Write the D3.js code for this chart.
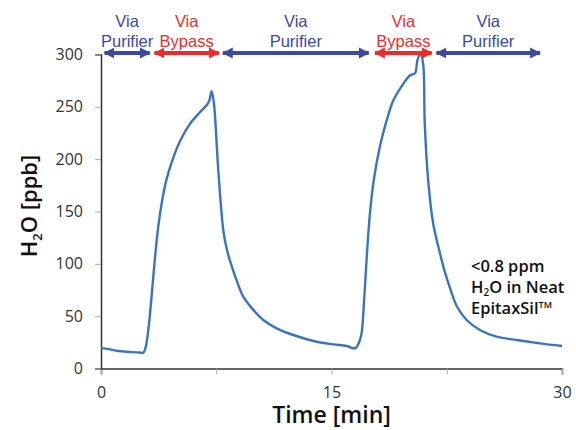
<!DOCTYPE html>
<html>
<head>
<meta charset="utf-8">
<script src="https://cdn.jsdelivr.net/npm/d3@7"></script>
<style>
  body { margin: 0; background: #fff; }
  svg { display: block; }
</style>
</head>
<body>
<svg width="576" height="430"></svg>
<script>
// time in minutes, H2O in ppb
const time = [0, 0.5, 1, 1.5, 2, 2.5, 2.75, 2.9, 3.08, 3.3, 3.5, 3.73, 3.95, 4.25, 4.6, 5.1, 5.8, 6.45, 6.9, 7.05, 7.2,
  7.35, 7.63, 7.96, 8.2, 8.5, 8.83, 9.26, 9.91, 10.56, 11.43, 12.51, 14.03, 15.12, 16.0, 16.53, 16.8, 16.96,
  17.1, 17.3, 17.5, 17.75, 18.15, 18.59, 19.02, 19.67, 20.1, 20.43, 20.6, 20.8, 20.97, 21.07, 21.29, 21.61,
  22.06, 22.38, 22.71, 23.14, 23.79, 24.66, 25.74, 27.05, 28.56, 30];
const h2o = [19.5, 18.5, 17, 16.3, 15.6, 15.3, 15.1, 20, 37, 70, 104, 136, 158, 180, 197, 216, 234, 245, 252, 256, 265,
  253, 190, 132, 113, 98, 84, 68.6, 56, 46.3, 38.4, 32, 25.6, 23.1, 21.5, 19.3, 25, 34,
  60, 108, 148, 180, 212, 237, 256, 272, 280, 282, 295, 301, 290, 234, 180, 139,
  110, 92, 77, 60, 46.3, 36.8, 30.4, 27.2, 24, 21.5];

const yTicks = [0, 50, 100, 150, 200, 250, 300];
const xTicks = [0, 7.5, 15, 22.5, 30];
const xTickLabels = ["0", "", "15", "", "30"];

// flow path annotations along the top
const pathNames = [["Via", "Purifier"], ["Via", "Bypass"], ["Via", "Purifier"], ["Via", "Bypass"], ["Via", "Purifier"]];
const pathStart = [0.1, 3.35, 7.8, 17.7, 21.7];
const pathEnd = [3.3, 7.8, 17.55, 21.65, 28.7];
const pathKind = ["purifier", "bypass", "purifier", "bypass", "purifier"];

const colors = { purifier: "#3b49a3", bypass: "#ee2b2b" };

const svg = d3.select("svg"),
  margin = { top: 54.5, right: 14, bottom: 61.5, left: 101 },
  width = +svg.attr("width") - margin.left - margin.right,
  height = +svg.attr("height") - margin.top - margin.bottom;

const x = d3.scaleLinear().domain([0, 30]).range([0, width]);
const y = d3.scaleLinear().domain([0, 300]).range([height, 0]);

const chart = svg.append("g")
  .attr("transform", "translate(" + margin.left + "," + margin.top + ")");

// axes
const xAxis = chart.append("g")
  .attr("transform", "translate(0," + height + ")")
  .call(d3.axisBottom(x).tickValues(xTicks).tickSize(6).tickFormat((d, i) => xTickLabels[i]));
xAxis.select(".domain").attr("stroke", "#333").attr("stroke-width", 1.5);
xAxis.selectAll(".tick line").attr("stroke", "#aaa");
xAxis.selectAll(".tick text")
  .attr("dy", "1.3em")
  .style("font-family", "'Open Sans', sans-serif")
  .style("font-size", "16px")
  .attr("fill", "#333");

const yAxis = chart.append("g")
  .call(d3.axisLeft(y).tickValues(yTicks).tickSize(6).tickPadding(12));
yAxis.select(".domain").attr("stroke", "#333").attr("stroke-width", 1.5);
yAxis.selectAll(".tick line").attr("stroke", "#aaa");
yAxis.selectAll(".tick text")
  .style("font-family", "'Open Sans', sans-serif")
  .style("font-size", "16px")
  .attr("fill", "#333");

// the trace
const points = time.map((t, i) => [t, h2o[i]]);
chart.append("path")
  .datum(points)
  .attr("fill", "none")
  .attr("stroke", "#3a74c0")
  .attr("stroke-width", 2.4)
  .attr("d", d3.line()
    .x(d => x(d[0]))
    .y(d => y(d[1]))
    .curve(d3.curveCatmullRom.alpha(0.5)));

// arrow heads
const defs = svg.append("defs");
Object.keys(colors).forEach(k => {
  defs.append("marker")
    .attr("id", "head-" + k)
    .attr("viewBox", "0 0 10 10")
    .attr("refX", 9)
    .attr("refY", 5)
    .attr("markerUnits", "userSpaceOnUse")
    .attr("markerWidth", 11)
    .attr("markerHeight", 12)
    .attr("orient", "auto-start-reverse")
    .append("path")
    .attr("d", "M0,0L10,5L0,10Z")
    .attr("fill", colors[k]);
});

const arrows = chart.selectAll(".flow")
  .data(pathNames)
  .enter()
  .append("g")
  .attr("class", "flow");

arrows.append("line")
  .attr("x1", (d, i) => x(pathStart[i]) + 2)
  .attr("x2", (d, i) => x(pathEnd[i]) - 2)
  .attr("y1", -1.5)
  .attr("y2", -1.5)
  .attr("stroke", (d, i) => colors[pathKind[i]])
  .attr("stroke-width", 4)
  .attr("marker-start", (d, i) => "url(#head-" + pathKind[i] + ")")
  .attr("marker-end", (d, i) => "url(#head-" + pathKind[i] + ")");

arrows.append("text")
  .attr("text-anchor", "middle")
  .attr("x", (d, i) => (x(pathStart[i]) + x(pathEnd[i])) / 2)
  .attr("fill", (d, i) => colors[pathKind[i]])
  .style("font-family", "'Liberation Sans', Arial, sans-serif")
  .style("font-size", "16.5px")
  .selectAll("tspan")
  .data(d => d)
  .enter()
  .append("tspan")
  .attr("x", function() { return d3.select(this.parentNode).attr("x"); })
  .attr("y", (d, i) => -28 + i * 20)
  .text(d => d);

// axis titles
const yTitle = svg.append("text")
  .attr("text-anchor", "middle")
  .attr("transform", "translate(37,206)rotate(-90)")
  .style("font-family", "'Open Sans', sans-serif")
  .style("font-size", "22px")
  .style("font-weight", 600)
  .attr("fill", "#111");
yTitle.append("tspan").text("H");
yTitle.append("tspan").attr("dy", 5).style("font-size", "13px").text("2");
yTitle.append("tspan").attr("dy", -5).text("O [ppb]");

svg.append("text")
  .attr("text-anchor", "middle")
  .attr("x", margin.left + width / 2)
  .attr("y", 423)
  .style("font-family", "'Open Sans', sans-serif")
  .style("font-size", "23px")
  .style("font-weight", 600)
  .attr("fill", "#111")
  .text("Time [min]");

// note
const note = svg.append("text")
  .style("font-family", "'Open Sans', sans-serif")
  .style("font-size", "16.5px")
  .style("font-weight", 600)
  .attr("fill", "#111");
note.append("tspan").attr("x", 471).attr("y", 272).text("<0.8 ppm");
note.append("tspan").text("H").attr("x", 471).attr("y", 293);
note.append("tspan").attr("dy", 3).style("font-size", "10px").text("2");
note.append("tspan").attr("dy", -3).text("O in Neat");
note.append("tspan").attr("x", 471).attr("y", 314).text("EpitaxSil");
note.append("tspan").attr("dy", -6).style("font-size", "9px").text("TM");
</script>
</body>
</html>
